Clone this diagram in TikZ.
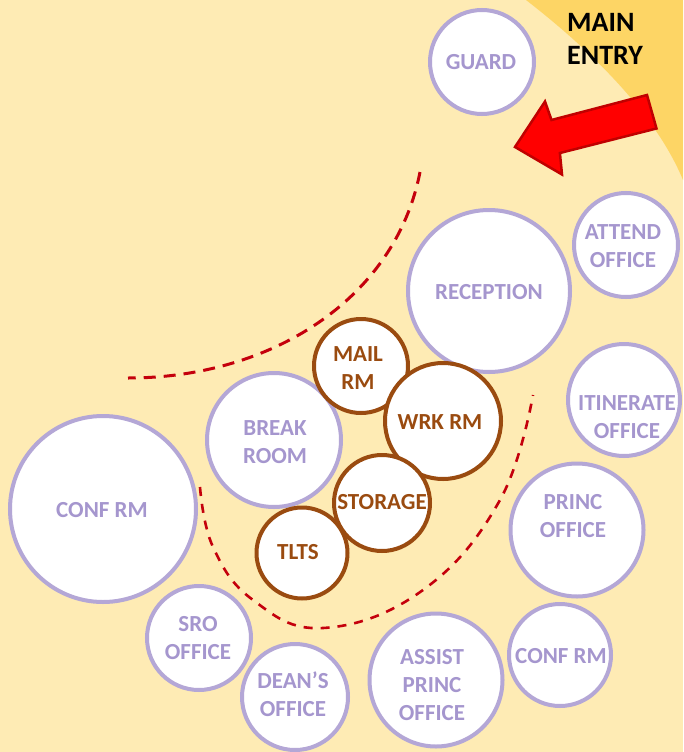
\documentclass[tikz,border=0pt]{standalone}
\usepackage{fontspec}
\setmainfont{Carlito}
\definecolor{paper}{HTML}{FEEBB4}
\definecolor{gold}{HTML}{FDD565}
\definecolor{lav}{HTML}{B4A7D6}
\definecolor{lavtext}{HTML}{A596CE}
\definecolor{brownline}{HTML}{9A4B10}
\definecolor{dashred}{HTML}{C4000C}
\definecolor{arrowred}{HTML}{FF0000}
\definecolor{arrowedge}{HTML}{C00000}

\tikzset{
  room/.style={circle, draw=lav, line width=4pt, fill=white, inner sep=0pt, minimum size=#1},
  core/.style={room=#1, draw=brownline},
  roomlbl/.style={inner sep=0pt, align=center, text=lavtext,
    font=\bfseries\fontsize{23}{28}\selectfont},
  corelbl/.style={roomlbl, text=brownline},
  entrylbl/.style={inner sep=0pt, anchor=base west,
    font=\bfseries\fontsize{28}{33}\selectfont},
  zone/.style={draw=dashred, line width=3pt, dash pattern=on 12pt off 8pt},
  zonefine/.style={draw=dashred, line width=2.6pt, dash pattern=on 9pt off 8pt},
}

\begin{document}
\begin{tikzpicture}[x=1pt, y=-1pt]
  % page and the entry side of the site
  \fill[paper] (0,0) rectangle (683,752);
  \useasboundingbox (0,0) rectangle (683,752);
  \fill[gold] (526,0) .. controls (575,38) and (652,105) .. (683,180) -- (683,0) -- cycle;

  % entry arrow
  \draw[fill=arrowred, draw=arrowedge, line width=2.5pt, line join=miter]
    (515,147) -- (545,101.5) -- (551.5,120) -- (647,95)
    -- (656.5,128.5) -- (559.9,153) -- (562,174.5) -- cycle;

  \node[entrylbl] (mainl) at (567,32) {MAIN};
  \node[entrylbl] (entryl) at (567,65) {ENTRY};

  % zone boundaries
  \draw[zone] (420,172) .. controls (395,300) and (270,378) .. (128,378);
  \draw[zonefine] plot[smooth, tension=0.7] coordinates
    {(200,487) (213,547) (253,600) (323,628) (423,590) (500,500) (533,395)};

  % public and office rooms
  \node[room=104] (guard) at (482,62) {};
  \node[room=162] (recep) at (489,291) {};
  \node[room=104] (attend) at (626,245) {};
  \node[room=112] (itin) at (624,400) {};
  \node[room=133] (princ) at (577,530) {};
  \node[room=102] (confr) at (560,655) {};
  \node[room=133] (assist) at (436,680) {};
  \node[room=106] (dean) at (295,697) {};
  \node[room=104] (sro) at (199,638) {};
  \node[room=186] (confl) at (103,509) {};
  \node[room=134] (break) at (274,440) {};

  % staff core
  \node[core=94] (mail) at (361,366) {};
  \node[core=116] (wrk) at (443,421) {};
  \node[core=96] (stor) at (382,503) {};
  \node[core=91] (tlts) at (302,553) {};

  % room names
  \node[roomlbl] (guardt) at (481,62) {GUARD};
  \node[roomlbl] (recept) at (489,292) {RECEPTION};
  \node[roomlbl] (attendt) at (623,246) {ATTEND\\OFFICE};
  \node[roomlbl] (itint) at (627,417) {ITINERATE\\OFFICE};
  \node[roomlbl] (princt) at (573,516) {PRINC\\OFFICE};
  \node[roomlbl] (confrt) at (561,656) {CONF RM};
  \node[roomlbl] (assistt) at (432,685) {ASSIST\\PRINC\\OFFICE};
  \node[roomlbl] (deant) at (293,694) {DEAN’S\\OFFICE};
  \node[roomlbl] (srot) at (198,638) {SRO\\OFFICE};
  \node[roomlbl] (conflt) at (102,510) {CONF RM};
  \node[roomlbl] (breakt) at (275,442) {BREAK\\ROOM};

  \node[corelbl] (mailt) at (358,368) {MAIL\\RM};
  \node[corelbl] (wrkt) at (440,422) {WRK RM};
  \node[corelbl] (stort) at (382,502) {STORAGE};
  \node[corelbl] (tltst) at (298,552) {TLTS};
\end{tikzpicture}
\end{document}
